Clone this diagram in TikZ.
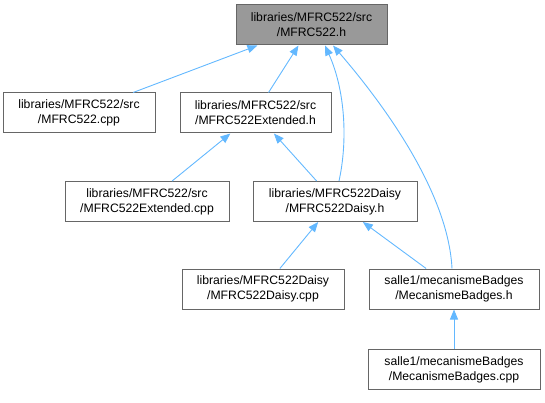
\documentclass[tikz,border=0pt]{standalone}
\usepackage{fontspec}
\setmainfont{Liberation Sans}
\usetikzlibrary{arrows.meta}
\definecolor{edgeblue}{HTML}{63B8FF}
\definecolor{boxborder}{HTML}{666666}
\definecolor{topfill}{HTML}{999999}
\tikzset{
  filebox/.style={draw=boxborder, fill=white, line width=1pt, rectangle, inner sep=0pt,
    minimum height=40pt, align=center, font=\fontsize{12.2}{15}\selectfont},
  topbox/.style={filebox, fill=topfill},
  dep/.style={draw=edgeblue, line width=0.9pt, -{Triangle[length=10pt,width=8pt]}}
}
\begin{document}
\begin{tikzpicture}[x=1pt,y=-1pt]
\useasboundingbox (0,0) rectangle (545,403);
\node[topbox, minimum width=151pt] (top) at (311.5,25) {libraries/MFRC522/src\\/MFRC522.h};
\node[filebox, minimum width=152pt] (cpp) at (79,113) {libraries/MFRC522/src\\/MFRC522.cpp};
\node[filebox, minimum width=151pt] (exth) at (255.5,113) {libraries/MFRC522/src\\/MFRC522Extended.h};
\node[filebox, minimum width=164pt] (extcpp) at (147,201.5) {libraries/MFRC522/src\\/MFRC522Extended.cpp};
\node[filebox, minimum width=164pt] (daisyh) at (335,201.5) {libraries/MFRC522Daisy\\/MFRC522Daisy.h};
\node[filebox, minimum width=162pt] (daisycpp) at (263,289) {libraries/MFRC522Daisy\\/MFRC522Daisy.cpp};
\node[filebox, minimum width=170pt] (mech) at (454,289) {salle1/mecanismeBadges\\/MecanismeBadges.h};
\node[filebox, minimum width=172pt] (meccpp) at (454,369.5) {salle1/mecanismeBadges\\/MecanismeBadges.cpp};

\draw[dep] (cpp) -- (top);
\draw[dep] (exth) -- (top);
\draw[dep] ([xshift=4pt]daisyh.north) .. controls (348,140) and (345,90) .. ([xshift=13.5pt]top.south);
\draw[dep] ([xshift=-2pt]mech.north) .. controls (448,190) and (380,100) .. ([xshift=21.5pt]top.south);
\draw[dep] (extcpp) -- (exth);
\draw[dep] (daisyh) -- (exth);
\draw[dep] (daisycpp) -- (daisyh);
\draw[dep] (mech) -- (daisyh);
\draw[dep] (meccpp) -- (mech);
\end{tikzpicture}
\end{document}
